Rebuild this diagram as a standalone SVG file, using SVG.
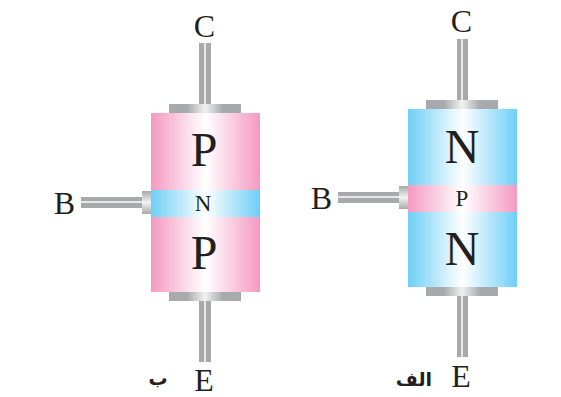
<svg xmlns="http://www.w3.org/2000/svg" width="561" height="397" viewBox="0 0 561 397">
<style>
text{font-family:"Liberation Serif","Times New Roman",serif;fill:#231f20;text-anchor:middle}
.t{font-size:32px}.big{font-size:48px}.mid{font-size:23px}
.ar{font-family:"DejaVu Sans",sans-serif;font-weight:bold;font-size:19px}
.lead{fill:#a7a9ac}.hi{fill:#e6e7e8}
</style>
<defs>
<linearGradient id="pink"><stop offset="0" stop-color="#f49ac1"/><stop offset=".5" stop-color="#fff"/><stop offset="1" stop-color="#f49ac1"/></linearGradient>
<linearGradient id="blue"><stop offset="0" stop-color="#6dcff6"/><stop offset=".5" stop-color="#fff"/><stop offset="1" stop-color="#6dcff6"/></linearGradient>
<linearGradient id="cap"><stop offset="0" stop-color="#a7a9ac"/><stop offset=".25" stop-color="#a7a9ac"/><stop offset=".5" stop-color="#f1f2f2"/><stop offset=".75" stop-color="#a7a9ac"/><stop offset="1" stop-color="#a7a9ac"/></linearGradient>
<linearGradient id="capv" x1="0" y1="0" x2="0" y2="1"><stop offset="0" stop-color="#a7a9ac"/><stop offset=".5" stop-color="#f1f2f2"/><stop offset="1" stop-color="#a7a9ac"/></linearGradient>
</defs>
<g id="connectors">
<rect class="lead" x="199" y="43" width="12" height="62"/><rect class="hi" x="204" y="43" width="2" height="62"/>
<rect class="lead" x="199" y="300" width="12" height="62"/><rect class="hi" x="204" y="300" width="2" height="62"/>
<rect class="lead" x="81" y="197" width="62" height="11"/><rect class="hi" x="81" y="201" width="62" height="2"/>
<rect class="lead" x="457" y="39" width="11" height="62"/><rect class="hi" x="461" y="39" width="2" height="62"/>
<rect class="lead" x="457" y="295" width="11" height="62"/><rect class="hi" x="461" y="295" width="2" height="62"/>
<rect class="lead" x="338" y="192" width="62" height="11"/><rect class="hi" x="338" y="196" width="62" height="2"/>
</g>
<g id="pnp">
<rect x="169" y="104" width="72" height="9" fill="url(#cap)"/>
<rect x="169" y="292" width="72" height="9" fill="url(#cap)"/>
<rect x="142" y="191" width="9" height="23" fill="url(#capv)"/>
<rect x="151" y="113" width="109" height="179" fill="url(#pink)"/>
<rect x="151" y="190" width="109" height="27" fill="url(#blue)"/>
<text class="big" x="204" y="166">P</text>
<text class="mid" x="203" y="211">N</text>
<text class="big" x="204" y="269">P</text>
</g>
<g id="npn">
<rect x="426" y="100" width="72" height="9" fill="url(#cap)"/>
<rect x="426" y="287" width="72" height="9" fill="url(#cap)"/>
<rect x="399" y="186" width="9" height="23" fill="url(#capv)"/>
<rect x="408" y="109" width="109" height="178" fill="url(#blue)"/>
<rect x="408" y="185" width="109" height="27" fill="url(#pink)"/>
<text class="big" x="462" y="163">N</text>
<text class="mid" x="462" y="206">P</text>
<text class="big" x="462" y="265">N</text>
</g>
<g id="labels">
<text class="t" x="204.500" y="37">C</text>
<text class="t" x="64.500" y="214">B</text>
<text class="t" x="204" y="391">E</text>
<text class="t" x="461.500" y="32">C</text>
<text class="t" x="321.500" y="209">B</text>
<text class="t" x="461" y="387">E</text>
<text class="ar" x="158" y="385">ب</text>
<text class="ar" x="414" y="386">الف</text>
</g>
</svg>
